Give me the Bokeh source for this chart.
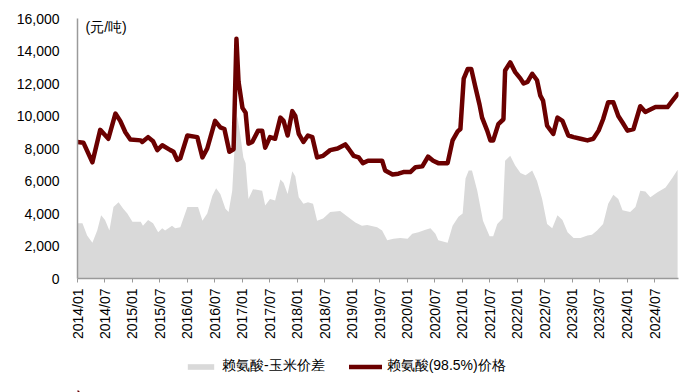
import pandas as pd
from bokeh.plotting import figure
from bokeh.layouts import column
from bokeh.models import (ColumnDataSource, FixedTicker, DatetimeTickFormatter,
                          NumeralTickFormatter, Legend, LegendItem, Label, Range1d)
from bokeh.embed import file_html
from bokeh.resources import INLINE

# ---- data ----
price_dates = [
    "2014-01-01", "2014-02-10", "2014-04-10", "2014-06-01", "2014-07-25", "2014-09-10",
    "2014-10-12", "2014-11-15", "2014-12-18", "2015-02-25", "2015-03-07", "2015-04-15",
    "2015-05-18", "2015-06-15", "2015-07-18", "2015-09-10", "2015-10-01", "2015-10-25",
    "2015-11-15", "2016-01-01", "2016-03-07", "2016-04-10", "2016-05-12", "2016-07-03",
    "2016-08-07", "2016-09-03", "2016-10-06", "2016-11-03", "2016-11-22", "2016-12-06",
    "2017-01-01", "2017-01-22", "2017-02-10", "2017-03-07", "2017-04-15", "2017-05-12",
    "2017-06-01", "2017-07-03", "2017-08-06", "2017-09-10", "2017-10-01", "2017-10-28",
    "2017-11-28", "2017-12-18", "2018-01-10", "2018-02-10", "2018-03-12", "2018-04-10",
    "2018-05-12", "2018-06-21", "2018-08-07", "2018-09-25", "2018-11-15", "2018-12-06",
    "2019-01-10", "2019-02-12", "2019-03-12", "2019-04-15", "2019-07-18", "2019-08-07",
    "2019-09-25", "2019-11-03", "2019-12-06", "2020-01-21", "2020-02-25", "2020-04-10",
    "2020-05-18", "2020-06-21", "2020-07-25", "2020-09-25", "2020-10-28", "2020-12-01",
    "2020-12-19", "2021-01-10", "2021-02-06", "2021-03-01", "2021-03-28", "2021-04-25",
    "2021-05-12", "2021-06-15", "2021-07-06", "2021-07-25", "2021-08-28", "2021-10-01",
    "2021-10-12", "2021-11-15", "2021-12-18", "2022-01-22", "2022-02-12", "2022-03-10",
    "2022-04-10", "2022-05-12", "2022-06-03", "2022-06-21", "2022-07-18", "2022-08-28",
    "2022-09-25", "2022-10-28", "2022-12-06", "2023-01-10", "2023-02-25", "2023-04-12",
    "2023-05-21", "2023-06-25", "2023-07-25", "2023-08-28", "2023-10-01", "2023-11-03",
    "2023-12-01", "2024-01-03", "2024-02-12", "2024-03-28", "2024-05-01", "2024-06-03",
    "2024-07-07", "2024-09-25", "2024-10-28", "2024-12-01",
]
price_values = [
    8400, 8350, 7150, 9150, 8600, 10150,
    9700, 9000, 8550, 8500, 8400, 8700,
    8450, 7900, 8200, 7900, 7800, 7300,
    7400, 8800, 8700, 7450, 8000, 9700,
    9300, 9200, 7800, 7950, 14750, 12100,
    10500, 10200, 8300, 8400, 9100, 9100,
    8050, 8700, 8600, 9900, 9700, 8800,
    10300, 10000, 8900, 8400, 8800, 8700,
    7450, 7550, 7900, 8000, 8250, 8000,
    7550, 7450, 7100, 7250, 7250, 6650,
    6400, 6450, 6550, 6550, 6850, 6900,
    7500, 7250, 7100, 7100, 8500, 9050,
    9200, 12300, 12900, 12900, 11800, 10700,
    9900, 9100, 8500, 8500, 9500, 9800,
    12800, 13300, 12700, 12300, 12000, 12100,
    12600, 12200, 11250, 10950, 9400, 8900,
    9900, 9700, 8800, 8700, 8600, 8500,
    8600, 9100, 9800, 10850, 10850, 10000,
    9600, 9100, 9200, 10600, 10250, 10400,
    10550, 10550, 10950, 11350,
]

spread_dates = [
    "2014-01-01", "2014-02-03", "2014-03-06", "2014-04-10", "2014-05-12", "2014-06-07",
    "2014-07-03", "2014-08-01", "2014-08-28", "2014-10-01", "2014-11-01", "2014-11-28",
    "2015-01-01", "2015-02-25", "2015-03-12", "2015-04-15", "2015-05-18", "2015-06-21",
    "2015-07-18", "2015-08-06", "2015-09-21", "2015-10-12", "2015-11-15", "2016-01-01",
    "2016-03-12", "2016-04-10", "2016-05-12", "2016-06-15", "2016-07-10", "2016-08-07",
    "2016-09-10", "2016-10-01", "2016-10-25", "2016-11-15", "2016-11-28", "2016-12-18",
    "2017-01-07", "2017-01-22", "2017-02-10", "2017-03-12", "2017-05-12", "2017-06-01",
    "2017-07-03", "2017-08-06", "2017-09-10", "2017-10-01", "2017-10-28", "2017-11-28",
    "2017-12-18", "2018-01-10", "2018-02-10", "2018-03-12", "2018-04-15", "2018-05-12",
    "2018-06-21", "2018-08-07", "2018-10-12", "2018-12-01", "2019-01-21", "2019-03-06",
    "2019-04-10", "2019-06-15", "2019-07-18", "2019-08-21", "2019-10-01", "2019-11-15",
    "2020-01-03", "2020-02-03", "2020-03-15", "2020-05-01", "2020-06-03", "2020-07-06",
    "2020-07-25", "2020-09-25", "2020-10-28", "2020-12-06", "2021-01-03", "2021-01-22",
    "2021-02-12", "2021-03-06", "2021-04-10", "2021-05-18", "2021-07-01", "2021-07-25",
    "2021-08-21", "2021-09-25", "2021-10-12", "2021-11-15", "2021-12-18", "2022-01-22",
    "2022-02-25", "2022-04-10", "2022-05-12", "2022-06-15", "2022-07-18", "2022-08-21",
    "2022-09-25", "2022-10-28", "2022-12-01", "2023-01-10", "2023-02-25", "2023-04-12",
    "2023-05-12", "2023-06-15", "2023-07-25", "2023-08-28", "2023-10-01", "2023-11-03",
    "2023-12-01", "2024-01-21", "2024-02-25", "2024-03-28", "2024-05-01", "2024-06-03",
    "2024-07-18", "2024-09-12", "2024-10-28", "2024-12-01",
]
spread_values = [
    3400, 3400, 2650, 2200, 2950, 3900,
    3600, 2950, 4400, 4700, 4300, 4000,
    3500, 3500, 3250, 3600, 3400, 2850,
    3100, 2950, 3250, 3100, 3150, 4400,
    4400, 3550, 4000, 5100, 5550, 5200,
    4300, 4100, 5400, 9000, 10000, 8800,
    7450, 7100, 4900, 5500, 5400, 4500,
    4900, 4800, 6100, 5900, 5200, 6600,
    6300, 5000, 4600, 4700, 4600, 3550,
    3700, 4100, 4150, 3800, 3450, 3250,
    3300, 3150, 2950, 2350, 2450, 2500,
    2450, 2750, 2850, 3000, 3100, 2750,
    2350, 2200, 3250, 3800, 4000, 6150,
    6650, 6650, 5400, 3550, 2600, 2600,
    3350, 3700, 7250, 7550, 6950, 6500,
    6350, 6650, 6000, 4900, 3350, 3100,
    3900, 3600, 2850, 2500, 2500, 2650,
    2700, 2950, 3350, 4600, 5150, 4900,
    4200, 4100, 4400, 5400, 5350, 5000,
    5300, 5600, 6200, 6700,
]

x_tick_labels = [f"{y}/{m}" for y in range(2014, 2025) for m in ("01", "07")]
y_ticks = [0, 2000, 4000, 6000, 8000, 10000, 12000, 14000, 16000]
series_names = ["赖氨酸-玉米价差", "赖氨酸(98.5%)价格"]
unit_label = "(元/吨)"

# ---- style ----
FONT = "Liberation Sans"
AREA_COLOR = "#d9d9d9"
LINE_COLOR = "#6b0000"
AXIS_COLOR = "#9a9a9a"

# ---- main chart ----
price_src = ColumnDataSource(dict(x=pd.to_datetime(price_dates), y=price_values))
spread_src = ColumnDataSource(dict(x=pd.to_datetime(spread_dates), y=spread_values))

p = figure(width=700, height=350, output_backend="svg", toolbar_location=None,
           x_axis_type="datetime",
           x_range=Range1d(pd.Timestamp("2014-01-01"), pd.Timestamp("2024-12-07")),
           y_range=Range1d(0, 16000),
           min_border_left=77, min_border_right=22, min_border_top=18,
           min_border_bottom=72)
p.outline_line_color = None
p.grid.visible = False

p.varea(x="x", y1=0, y2="y", source=spread_src, fill_color=AREA_COLOR)
p.line(x="x", y="y", source=price_src, line_color=LINE_COLOR, line_width=4.5,
       line_join="round", line_cap="round")

tick_ms = [pd.to_datetime(t, format="%Y/%m").value // 10**6 for t in x_tick_labels]
xa = p.xaxis[0]
xa.ticker = FixedTicker(ticks=tick_ms)
fmt = "%Y/%m"
xa.formatter = DatetimeTickFormatter(days=fmt, months=fmt, years=fmt, hours=fmt,
                                     hourmin=fmt, minutes=fmt, minsec=fmt, seconds=fmt,
                                     milliseconds=fmt, microseconds=fmt)
xa.major_label_orientation = 1.5707963267948966
xa.major_label_text_font = FONT
xa.major_label_text_font_size = "14px"
xa.major_label_text_color = "#000000"
xa.major_label_standoff = 6
xa.major_tick_out = 4
xa.major_tick_in = 0
xa.minor_tick_out = 0
xa.minor_tick_in = 0
xa.axis_line_color = AXIS_COLOR
xa.major_tick_line_color = AXIS_COLOR
xa.axis_line_width = 1.5

ya = p.yaxis[0]
ya.ticker = FixedTicker(ticks=y_ticks)
ya.formatter = NumeralTickFormatter(format="0,0")
ya.major_label_text_font = FONT
ya.major_label_text_font_size = "14px"
ya.major_label_text_color = "#000000"
ya.major_tick_out = 0
ya.major_tick_in = 0
ya.minor_tick_out = 0
ya.minor_tick_in = 0
ya.major_label_standoff = 18
ya.axis_line_color = AXIS_COLOR
ya.axis_line_width = 1.5

p.add_layout(Label(x=8, y=260, x_units="screen", y_units="screen", text=unit_label,
                   text_baseline="top", text_font=FONT, text_font_size="14px",
                   text_color="#000000"))

# ---- legend strip ----
q = figure(width=700, height=42, output_backend="svg", toolbar_location=None,
           x_range=Range1d(0, 1), y_range=Range1d(0, 1),
           x_axis_location=None, y_axis_location=None,
           min_border_left=0, min_border_right=0, min_border_top=0,
           min_border_bottom=0)
q.outline_line_color = None
q.grid.visible = False
dummy = ColumnDataSource(dict(x=[0.0, 0.0], y=[0.0, 0.0]))
leg_area = q.varea(x="x", y1=0, y2="y", source=dummy, fill_color=AREA_COLOR)
leg_line = q.line(x="x", y="y", source=dummy, line_color=LINE_COLOR, line_width=4.5,
                  line_cap="round")

legend = Legend(items=[LegendItem(label=series_names[0], renderers=[leg_area]),
                       LegendItem(label=series_names[1], renderers=[leg_line])],
                orientation="horizontal", location=(107, 17),
                border_line_color=None, background_fill_alpha=0,
                label_text_font=FONT, label_text_font_size="14px",
                label_text_color="#000000",
                glyph_width=33, glyph_height=7, spacing=24, label_standoff=5,
                padding=2, margin=0)
q.add_layout(legend, "center")

layout = column(p, q, spacing=0)
open("out.html", "w").write(file_html(layout, INLINE))
